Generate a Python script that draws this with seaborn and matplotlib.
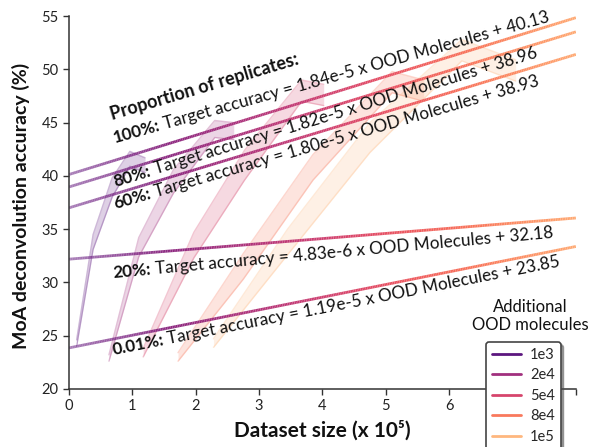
import numpy as np
import matplotlib
matplotlib.use("Agg")
import matplotlib.pyplot as plt
import seaborn as sns
from matplotlib.collections import LineCollection
from matplotlib.lines import Line2D

sns.set_theme(style="ticks")
plt.rcParams["font.family"] = ["Lato", "DejaVu Sans"]

# accuracy bands (dataset size in 1e5) for each number of additional OOD molecules
ood_levels = ["1e3", "2e4", "5e4", "8e4", "1e5"]
band_x = [
    [0.12, 0.38, 0.68, 0.96, 1.20],
    [0.63, 1.10, 1.65, 2.30, 2.60],
    [1.17, 1.97, 2.77, 3.67, 4.02],
    [1.72, 2.75, 3.85, 5.10, 5.60],
    [2.28, 3.45, 4.75, 6.20, 7.05],
]
band_lo = [
    [24.0, 33.1, 38.0, 40.9, 40.3],
    [22.6, 32.4, 38.4, 43.6, 43.4],
    [23.0, 32.3, 39.6, 47.0, 46.6],
    [22.6, 30.3, 39.6, 47.8, 47.0],
    [23.9, 32.6, 42.2, 50.8, 48.9],
]
band_hi = [
    [24.6, 34.5, 39.8, 42.3, 41.7],
    [23.2, 34.2, 40.6, 45.2, 45.0],
    [23.8, 34.7, 42.4, 49.0, 48.6],
    [23.4, 32.7, 42.0, 49.8, 49.0],
    [24.7, 35.0, 45.0, 52.8, 50.9],
]

# regression lines per proportion of replicates
fit_names = ["100%", "80%", "60%", "20%", "0.01%"]
fit_slopes = [1.84e-5, 1.82e-5, 1.80e-5, 4.83e-6, 1.19e-5]
fit_intercepts = [40.13, 38.96, 38.93, 32.18, 23.85]
line_intercepts = [40.13, 38.96, 37.0, 32.18, 23.85]

cmap = sns.color_palette("magma", as_cmap=True)
colors = [cmap(v) for v in [0.28, 0.45, 0.58, 0.72, 0.85]]

fig = plt.figure(figsize=(5.9, 4.47), dpi=100)
ax = fig.add_axes([0.117, 0.130, 0.859, 0.834])

for i, lvl in enumerate(ood_levels):
    ax.fill_between(band_x[i], band_lo[i], band_hi[i], color=colors[i], alpha=0.2, lw=0)
    ax.plot(band_x[i], band_lo[i], color=colors[i], alpha=0.3, lw=1)
    ax.plot(band_x[i], band_hi[i], color=colors[i], alpha=0.3, lw=1)

# gradient coloured fit lines
xs = np.linspace(0, 8, 300)
for slope, icpt in zip(fit_slopes, line_intercepts):
    ys = icpt + slope * 1e5 * xs
    pts = np.column_stack([xs, ys]).reshape(-1, 1, 2)
    segs = np.concatenate([pts[:-1], pts[1:]], axis=1)
    t = xs[:-1] / 8
    cols = np.array([cmap(0.3 + 0.52 * v) for v in t])
    cols[:, 3] = np.clip(0.55 + 0.45 * xs[:-1] / 1.6, 0, 1)
    lc = LineCollection(segs, colors=cols, linewidths=2.0, capstyle="butt")
    ax.add_collection(lc)

ax.set_xlim(0, 8)
ax.set_ylim(20, 55)

# annotations: bold proportion, then the regular equation right after it
txt_pos = [(0.73, 43.1), (0.73, 39.0), (0.73, 36.9), (0.70, 30.4), (0.70, 23.2)]
txt_rot = [15.6, 17.0, 16.2, 5.2, 11.2]
renderer = fig.canvas.get_renderer()
for name, slope, icpt, pos, rot in zip(fit_names, fit_slopes, fit_intercepts, txt_pos, txt_rot):
    bold = ax.text(pos[0], pos[1], name + ":", fontsize=12.3, fontweight="bold",
                   ha="left", va="baseline", color="#111111")
    w = bold.get_window_extent(renderer).width * 72 / fig.dpi + 3
    bold.set_rotation(rot)
    bold.set_rotation_mode("anchor")
    eq = "Target accuracy = " + f"{slope:.2e}".replace("e-0", "e-") + \
         f" x OOD Molecules + {icpt:.2f}"
    a = np.deg2rad(rot)
    ax.annotate(eq, xy=pos, xytext=(w * np.cos(a), w * np.sin(a)),
                textcoords="offset points", fontsize=12.3, rotation=rot,
                rotation_mode="anchor", ha="left", va="baseline", color="#111111")
ax.text(0.68, 45.2, "Proportion of replicates:", fontsize=13, fontweight="bold",
        rotation=16.6, rotation_mode="anchor", ha="left", va="baseline", color="#111111")

ax.set_xticks(range(0, 9))
ax.set_xticklabels([str(i) for i in range(0, 8)] + [""])
ax.set_yticks(range(20, 56, 5))
ax.tick_params(labelsize=10.5, length=4, width=1, color="#333333", labelcolor="#222222")
for sp in ["left", "bottom"]:
    ax.spines[sp].set_color("#333333")
    ax.spines[sp].set_linewidth(1.1)
sns.despine(ax=ax)

ax.set_xlabel("Dataset size (x 10⁵)", fontsize=15, fontweight="bold", color="#111111")
ax.set_ylabel("MoA deconvolution accuracy (%)", fontsize=14, fontweight="bold", color="#111111")
ax.xaxis.set_label_coords(0.5, -0.085)
ax.yaxis.set_label_coords(-0.077, 0.49)

handles = [Line2D([0], [0], color=c, lw=2) for c in colors]
leg = fig.legend(handles, ood_levels, loc="upper left", bbox_to_anchor=(0.824, 0.235),
                 fontsize=10.5, frameon=True, fancybox=True, shadow=True, borderaxespad=0,
                 handlelength=2.0, handletextpad=0.6, labelspacing=0.45, borderpad=0.4)
leg.get_frame().set_edgecolor("#444444")
leg.get_frame().set_linewidth(1.2)
fig.text(530 / 590, 1 - 316 / 447, "Additional\nOOD molecules", ha="center", va="center",
         fontsize=12, linespacing=1.15, color="#111111")

fig.savefig("out.png", dpi=100)
